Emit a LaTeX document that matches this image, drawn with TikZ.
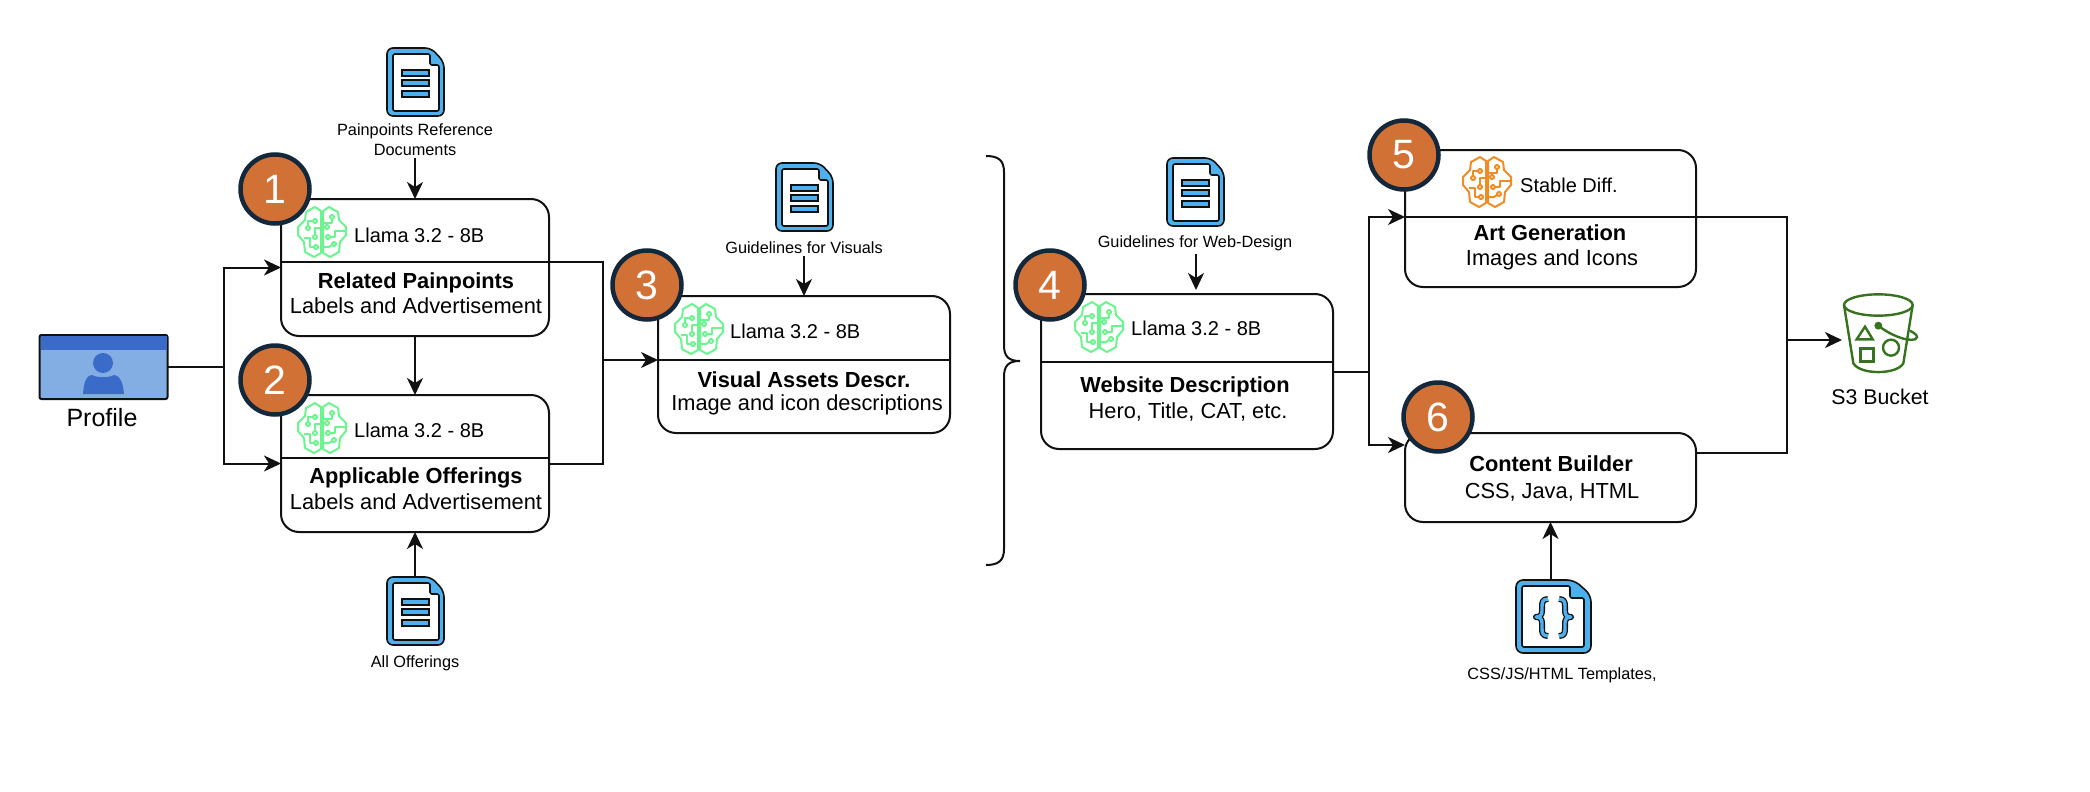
\documentclass[tikz,border=0pt]{standalone}
\usepackage{fontspec}
\setmainfont{Liberation Sans}
\usetikzlibrary{arrows.meta}

\tikzset{
    modelbox/.style={draw=lineBlack, line width=2pt, fill=white, rounded corners=18pt, inner sep=0pt, outer sep=0pt},
    flowline/.style={draw=lineBlack, line width=2pt},
    flowarrow/.style={flowline, -{Stealth[length=17pt, width=16pt, inset=5pt]}},
    badge/.style={circle, draw=badgeNavy, line width=4.5pt, fill=badgeOrange, text=white, minimum size=69pt, inner sep=0pt, font=\fontsize{41}{41}\selectfont},
    titletxt/.style={font=\fontsize{21.8}{26}\selectfont\bfseries, inner sep=0pt},
    bodytxt/.style={font=\fontsize{21.8}{26}\selectfont, inner sep=0pt},
    modeltxt/.style={font=\fontsize{20}{24}\selectfont, anchor=west, inner sep=0pt},
    smalltxt/.style={font=\fontsize{16.3}{20}\selectfont, align=center, inner sep=2pt},
    pics/brain/.style={code={
        \begin{scope}[draw=#1, line width=2pt, line join=round]
            \foreach \sd in {1,-1}{
                \begin{scope}[xscale=\sd]
                    \draw (1,-21) -- (7,-25) -- (16,-20) -- (17,-12) -- (24,-5) -- (24,3) -- (18,10) -- (17,20) -- (8,25) -- (1,21) -- cycle;
                \end{scope}
            }
            % left half
            \draw (-14,-6) -- (-14,-11) -- (-9,-11);
            \draw (-14,-4) circle (2);
            \draw (-7,-11) circle (2);
            \draw (-7,3) -- (-7,-4) -- (-1,-4);
            \draw (-7,5) circle (2);
            \draw (-8,15) -- (-12,15) -- (-12,6) -- (-18,6);
            \draw (-6,15) circle (2);
            % right half
            \draw (10,-13) -- (10,-9) -- (1,-9);
            \draw (10,-15) circle (2);
            \draw (5,-7) -- (5,-9);
            \draw (5,-5) circle (2);
            \draw (8,5) -- (13,5) -- (13,-1) -- (23,-1);
            \draw (6,5) circle (2);
            \draw (10,13) -- (7,15) -- (1,15);
            \draw (12,12) circle (2);
        \end{scope}
    }},
    pics/docfile/.style={code={
        \draw[lineBlack, line width=1.6pt, fill=docBlue, rounded corners=6pt] (0,0) -- (44,0) -- (57,14) -- (57,68) -- (0,68) -- cycle;
        \draw[lineBlack, line width=1.6pt, fill=white, rounded corners=2pt] (6,6) -- (43,6) -- (43,17) -- (52,17) -- (52,63) -- (6,63) -- cycle;
        \foreach \ybar in {22,32,43}{
            \draw[lineBlack, line width=1.6pt, fill=docBlue] (15,\ybar) rectangle (42,\ybar+6);
        }
    }}
}

\begin{document}
\begin{tikzpicture}[x=1pt, y=-1pt]
    % Colours
    \definecolor{lineBlack}{RGB}{17,17,17}
    \definecolor{badgeOrange}{RGB}{210,113,54}
    \definecolor{badgeNavy}{RGB}{20,40,60}
    \definecolor{docBlue}{RGB}{79,176,238}
    \definecolor{brainGreen}{RGB}{108,245,143}
    \definecolor{brainOrange}{RGB}{240,140,35}
    \definecolor{profileDark}{RGB}{59,107,201}
    \definecolor{profileLight}{RGB}{130,174,227}
    \definecolor{bucketGreen}{RGB}{55,115,30}

    \useasboundingbox (0,0) rectangle (2090,792);

    % Boxes
    \node[modelbox, minimum width=268pt, minimum height=137pt] (box1) at (415,267.5) {};
    \node[modelbox, minimum width=268pt, minimum height=137pt] (box2) at (415,463.5) {};
    \node[modelbox, minimum width=292pt, minimum height=137pt] (box3) at (804,364.5) {};
    \node[modelbox, minimum width=292pt, minimum height=155pt] (box4) at (1187,371.5) {};
    \node[modelbox, minimum width=291pt, minimum height=137pt] (box5) at (1550.5,218.5) {};
    \node[modelbox, minimum width=291pt, minimum height=89pt] (box6) at (1550.5,477.5) {};

    % Profile
    \node[draw=lineBlack, line width=2pt, fill=profileLight, rounded corners=2pt, minimum width=128pt, minimum height=64pt, inner sep=0pt, outer sep=0pt] (profile) at (103.5,367) {};
    \fill[profileDark] (40.5,336) rectangle (166.5,350);
    \fill[profileDark] (103,363) circle (10);
    \fill[profileDark] (83,394) .. controls (84,384) and (85,376) .. (92,375) .. controls (98,378) and (108,378) .. (114,375) .. controls (121,376) and (123,384) .. (124,394) -- cycle;
    \node[font=\fontsize{25}{30}\selectfont, inner sep=0pt] (profileLabel) at (102,418) {Profile};

    % Branch points
    \coordinate (profileSplit) at (224,367);
    \coordinate (box1Out) at (281,262);
    \coordinate (leftMerge) at (603,262);
    \coordinate (box3In) at (658,360);
    \coordinate (mergeTap) at (603,360);
    \coordinate (box4Out) at (1333,372);
    \coordinate (rightSplit) at (1369,372);
    \coordinate (box5In) at (1405,217);
    \coordinate (box6In) at (1405,445);
    \coordinate (rightMerge) at (1787,217);
    \coordinate (bucketTap) at (1787,340);
    \coordinate (bucketIn) at (1842,340);
    \coordinate (box6Out) at (1696,453);

    % Connectors
    \draw[flowline] (profile.east) -- (profileSplit);
    \draw[flowarrow] (profileSplit) |- (box1.west);
    \draw[flowarrow] (profileSplit) |- (box2.west);
    \draw[flowarrow] (box1.south) -- (box2.north);
    \draw[flowline] (box1Out) -- (leftMerge) |- (box2.east);
    \draw[flowarrow] (mergeTap) -- (box3In);
    \draw[flowline] (box2.west |- 0,458) -- (box2.east |- 0,458);
    \draw[flowline] (box3.west |- box3In) -- (box3.east |- box3In);
    \draw[flowline] (box4.west |- 0,362) -- (box4.east |- 0,362);
    \draw[flowline] (box4Out) -- (rightSplit);
    \draw[flowarrow] (rightSplit) |- (box5In);
    \draw[flowarrow] (rightSplit) |- (box6In);
    \draw[flowline] (box5In) -- (rightMerge) |- (box6Out);
    \draw[flowarrow] (bucketTap) -- (bucketIn);

    % Model lines
    \pic at (322,232) {brain=brainGreen};
    \pic at (322,428) {brain=brainGreen};
    \pic at (699,329) {brain=brainGreen};
    \pic at (1099,327) {brain=brainGreen};
    \pic at (1487,182) {brain=brainOrange};
    \foreach \nm/\mx/\my in {a/354/235, b/354/430, c/730/331, d/1131/328}{
        \node[modeltxt] (model\nm) at (\mx,\my) {Llama 3.2 - 8B};
    }
    \node[modeltxt] (modele) at (1520,185) {Stable Diff.};

    % Box texts
    \node[titletxt] (title1) at (416,283) {Related Painpoints};
    \node[bodytxt] (body1) at (416,306) {Labels and Advertisement};
    \node[titletxt] (title2) at (416,478) {Applicable Offerings};
    \node[bodytxt] (body2) at (416,502) {Labels and Advertisement};
    \node[titletxt] (title3) at (804,380) {Visual Assets Descr.};
    \node[bodytxt] (body3) at (807,405) {Image and icon descriptions};
    \node[titletxt] (title4) at (1185,387) {Website Description};
    \node[bodytxt] (body4) at (1188,412) {Hero, Title, CAT, etc.};
    \node[titletxt] (title5) at (1550,233) {Art Generation};
    \node[bodytxt] (body5) at (1552,260) {Images and Icons};
    \node[titletxt] (title6) at (1551,464) {Content Builder};
    \node[bodytxt] (body6) at (1552,492) {CSS, Java, HTML};

    % Numbered badges
    \foreach \n/\bx/\by in {1/275/189, 2/275/380, 3/647/285, 4/1050/285, 5/1404/155, 6/1438/417}{
        \node[badge] (badge\n) at (\bx,\by) {\n};
    }

    % Documents
    \pic at (387,48) {docfile};
    \pic at (387,577) {docfile};
    \pic at (776,163) {docfile};
    \pic at (1167,158) {docfile};
    \begin{scope}[shift={(1516,580)}]
        \draw[lineBlack, line width=1.6pt, fill=docBlue, rounded corners=7pt] (0,0) -- (58,0) -- (75,15) -- (75,73) -- (0,73) -- cycle;
        \draw[lineBlack, line width=1.6pt, fill=white, rounded corners=2pt] (6,6) -- (54,6) -- (54,18) -- (68,18) -- (68,67) -- (6,67) -- cycle;
        \foreach \lay/\wd in {lineBlack/6pt, docBlue/3.4pt}{
            \draw[\lay, line width=\wd, line join=round, line cap=butt] (32,19) .. controls (26,19) and (26,23) .. (26,27) -- (26,31) .. controls (26,35) and (24,37) .. (20,37) .. controls (24,37) and (26,39) .. (26,43) -- (26,48) .. controls (26,52) and (26,56) .. (32,56);
            \draw[\lay, line width=\wd, line join=round, line cap=butt] (43,19) .. controls (49,19) and (49,23) .. (49,27) -- (49,31) .. controls (49,35) and (51,37) .. (55,37) .. controls (51,37) and (49,39) .. (49,43) -- (49,48) .. controls (49,52) and (49,56) .. (43,56);
        }
    \end{scope}

    % Document labels
    \node[smalltxt] (docLabel1) at (415,140) {Painpoints Reference\\Documents};
    \node[smalltxt] (docLabel2) at (415,663) {All Offerings};
    \node[smalltxt] (docLabel3) at (804,248) {Guidelines for Visuals};
    \node[smalltxt] (docLabel4) at (1195,243) {Guidelines for Web-Design};
    \node[smalltxt] (docLabel6) at (1562,675) {CSS/JS/HTML Templates,};

    % Document arrows
    \coordinate (doc2Top) at (415,577);
    \coordinate (doc6Top) at (1550.5,580);
    \coordinate (doc4From) at (1196,254);
    \coordinate (doc4To) at (1196,290);
    \draw[flowarrow] (docLabel1.south) -- (box1.north);
    \draw[flowarrow] (doc2Top) -- (box2.south);
    \draw[flowarrow] (docLabel3.south) -- (box3.north);
    \draw[flowarrow] (doc4From) -- (doc4To);
    \draw[flowarrow] (doc6Top) -- (box6.south);

    % Brace
    \draw[flowline] (986,156) .. controls (998,156) and (1004,160) .. (1004,172) -- (1004,345) .. controls (1004,356) and (1008,361) .. (1020,361) .. controls (1008,361) and (1004,366) .. (1004,377) -- (1004,549) .. controls (1004,561) and (998,565) .. (986,565);

    % S3 bucket
    \begin{scope}[shift={(1810,280)}, x=0.3333pt, y=-0.3333pt, draw=bucketGreen, line width=2.4pt]
        \draw (205,75) ellipse [x radius=103, y radius=32];
        \draw[line join=round] (102,75) -- (130,250) .. controls (150,285) and (260,285) .. (280,250) -- (308,75);
        \draw (165,140) -- (188,178) -- (140,178) -- cycle;
        \draw (152,205) rectangle (190,245);
        \draw (243,203) circle (24);
        \draw[fill=bucketGreen] (205,137) circle (8);
        \draw (205,137) .. controls (240,165) and (290,185) .. (315,178) .. controls (330,170) and (315,160) .. (300,152);
    \end{scope}
    \node[font=\fontsize{21.3}{26}\selectfont, inner sep=0pt] (bucketLabel) at (1880,397) {S3 Bucket};
\end{tikzpicture}
\end{document}
